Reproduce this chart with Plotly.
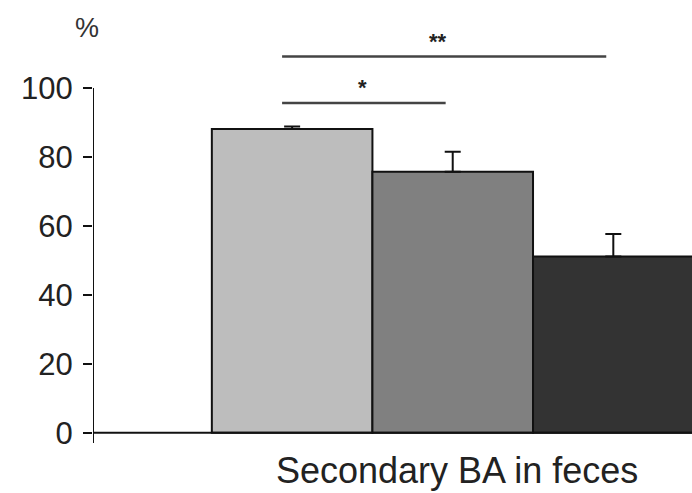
import plotly.graph_objects as go

categories = ["Group 1", "Group 2", "Group 3"]
x_pos = [1, 2, 3]
values = [88.1, 75.7, 51.1]
err_plus = [0.7, 5.8, 6.5]
colors = ["#bdbdbd", "#808080", "#333333"]
y_ticks = [0, 20, 40, 60, 80, 100]
x_title = "Secondary BA in feces"

X0, X1 = -0.24, 3.49
Y0, Y1 = -3, 125.5

fig = go.Figure()
fig.add_trace(go.Bar(
    x=x_pos, y=values, width=1.0,
    marker=dict(color=colors, line=dict(color="#111111", width=2)),
    error_y=dict(type="data", symmetric=False, array=err_plus,
                 arrayminus=[0, 0, 0], color="#111111", thickness=2, width=8),
    hovertext=categories, hoverinfo="text+y", showlegend=False,
))

shapes = [
    # y axis line
    dict(type="line", xref="x", yref="y", x0=X0, x1=X0, y0=-3, y1=100,
         line=dict(color="#111111", width=2)),
    # x axis line
    dict(type="line", xref="x", yref="y", x0=X0, x1=X1, y0=0, y1=0,
         line=dict(color="#111111", width=2)),
    # significance lines
    dict(type="line", xref="x", yref="y", x0=0.9375, x1=1.956, y0=95.6, y1=95.6,
         line=dict(color="#444444", width=2.5)),
    dict(type="line", xref="x", yref="y", x0=0.9375, x1=2.956, y0=109.1, y1=109.1,
         line=dict(color="#444444", width=2.5)),
]

font_main = "Liberation Sans, Arial, sans-serif"
annotations = [
    dict(x=1.4375, y=100.0, xref="x", yref="y", text="<b>*</b>", showarrow=False,
         font=dict(size=22, color="#222222", family=font_main)),
    dict(x=1.906, y=113.4, xref="x", yref="y", text="<b>**</b>", showarrow=False,
         font=dict(size=22, color="#222222", family=font_main)),
    dict(x=-0.0334, y=117.4, xref="paper", yref="y", text="%", showarrow=False,
         font=dict(size=27, color="#333333", family=font_main)),
    dict(x=2.025, y=-3, xref="x", yref="y", yshift=-27, text=x_title, showarrow=False,
         font=dict(size=36, color="#222222", family=font_main)),
]

fig.update_layout(
    width=692, height=493,
    margin=dict(l=93, r=0, t=0, b=50),
    paper_bgcolor="white", plot_bgcolor="white",
    shapes=shapes, annotations=annotations,
    xaxis=dict(range=[X0, X1], showgrid=False, zeroline=False, showline=False,
               showticklabels=False, ticks=""),
    yaxis=dict(range=[Y0, Y1], showgrid=False, zeroline=False, showline=False,
               tickvals=y_ticks, ticks="outside", ticklen=9, tickwidth=2,
               tickcolor="#111111", ticklabelstandoff=4,
               tickfont=dict(size=31, color="#222222", family=font_main)),
)

fig.write_html("out.html")
